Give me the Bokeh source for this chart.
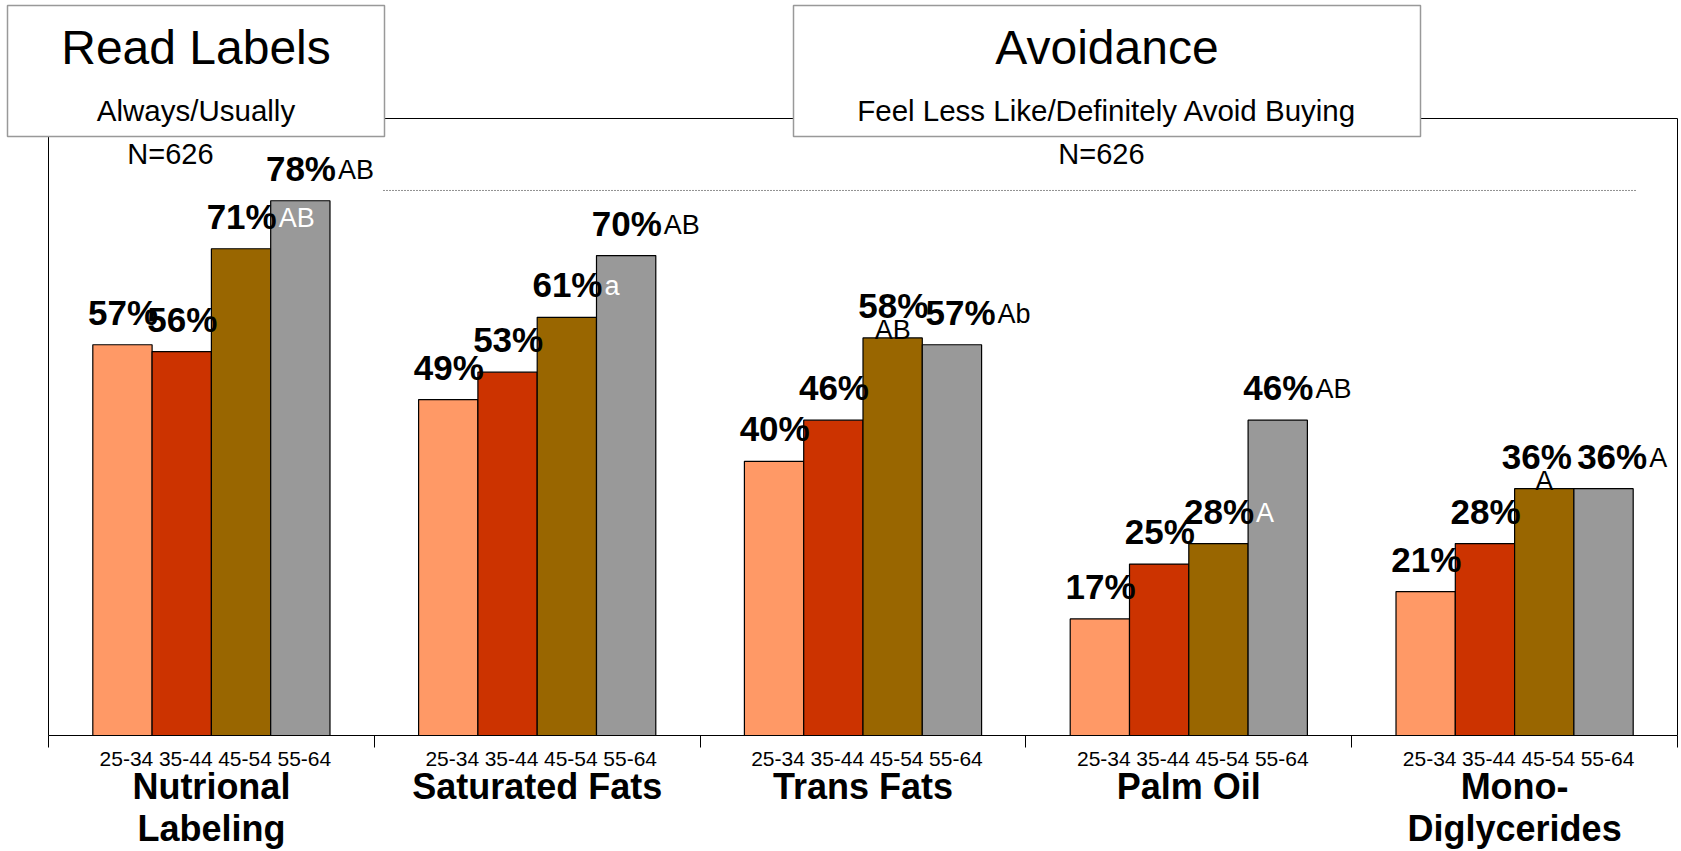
from bokeh.plotting import figure
from bokeh.models import (ColumnDataSource, LabelSet, BoxAnnotation,
                          LinearAxis, FixedTicker)
from bokeh.core.properties import value
from bokeh.embed import file_html
from bokeh.resources import INLINE

# ---------------------------------------------------------------- data
groups = ["Nutrional\nLabeling", "Saturated Fats", "Trans Fats", "Palm Oil",
          "Mono-\nDiglycerides"]
age_bands = ["25-34", "35-44", "45-54", "55-64"]
pct_25_34 = [57, 49, 40, 17, 21]
pct_35_44 = [56, 53, 46, 25, 28]
pct_45_54 = [71, 61, 58, 28, 36]
pct_55_64 = [78, 70, 57, 46, 36]
sig_25_34 = ["", "", "", "", ""]
sig_35_44 = ["", "", "", "", ""]
sig_45_54 = ["AB", "a", "AB", "A", "A"]
sig_55_64 = ["AB", "AB", "Ab", "AB", "A"]
sample_size = "N=626"
left_title, left_sub = "Read Labels", "Always/Usually"
right_title, right_sub = "Avoidance", "Feel Less Like/Definitely Avoid Buying"
ref_level = 79.5

series = [pct_25_34, pct_35_44, pct_45_54, pct_55_64]
sigs = [sig_25_34, sig_35_44, sig_45_54, sig_55_64]

# -------------------------------------------------------------- layout
W, H = 1681, 851
# plot box (canvas pixels); the figure's frame covers the whole canvas so
# that titles and category labels around the box can be drawn as well
BOX_L, BOX_R, BOX_T, BOX_B = 48, 1677, 118, 735
Y_MAX = 90
BAR_W = 0.182
FONT = "Liberation Sans"
COLORS = ["#FF9966", "#CC3300", "#996600", "#999999"]
N_GROUPS = len(groups)

XS = (BOX_R - BOX_L) / N_GROUPS   # pixels per group
YS = (BOX_B - BOX_T) / Y_MAX      # pixels per percentage point


def gx(px):
    return (px - BOX_L) / XS


def gy(py):
    return (BOX_B - py) / YS


# horizontal nudge (px) of each value label past its bar's right edge
label_nudge = [[6, 6, 6, 6], [6, 6, 6, 6], [6, 6, 6, 14], [6, 6, 6, 6], [6, 6, -2, 14]]
LABEL_LIFT = 20      # px between bar top and value-label baseline
SIG_LIFT = 22        # px between bar top and baseline of trailing letters
# significance letters that sit on top of the bar instead of after the value
sig_on_bar = [[False] * 4, [False] * 4, [False, False, True, False],
              [False] * 4, [False, False, True, False]]

p = figure(width=W, height=H, x_range=(gx(0), gx(W)), y_range=(gy(H), gy(0)),
           output_backend="svg", toolbar_location=None,
           x_axis_type=None, y_axis_type=None,
           min_border_left=0, min_border_right=0,
           min_border_top=0, min_border_bottom=0)
p.outline_line_color = None
p.background_fill_color = "white"
p.border_fill_color = "white"


def frame_axis(loc, bounds, ticks=(), tick_out=0):
    return LinearAxis(fixed_location=loc, bounds=bounds,
                      ticker=FixedTicker(ticks=list(ticks)),
                      major_tick_in=0, major_tick_out=tick_out,
                      minor_tick_line_color=None,
                      axis_line_color="black", axis_line_width=1,
                      major_tick_line_color="black",
                      major_label_text_font_size="0px",
                      major_label_overrides={t: "" for t in ticks})


# box edges: category axis with group separators, value axis, and frame
p.add_layout(frame_axis(0, (0, N_GROUPS), range(N_GROUPS + 1), 12), "below")
p.add_layout(frame_axis(0, (0, Y_MAX)), "left")
p.add_layout(frame_axis(N_GROUPS, (0, Y_MAX)), "right")
p.add_layout(frame_axis(Y_MAX, (0, N_GROUPS)), "above")

# ---------------------------------------------------------------- bars
bx, btop, bcol = [], [], []
lx, ly, ltxt = [], [], []
sx_, sy_, stxt, salign, scol = [], [], [], [], []
ax, atxt = [], []
for g in range(N_GROUPS):
    for j, vals in enumerate(series):
        xc = g + 0.5 + (j - 1.5) * BAR_W
        v = vals[g]
        bx.append(xc)
        btop.append(v)
        bcol.append(COLORS[j])
        xr = xc + BAR_W / 2
        nudge = label_nudge[g][j]
        lx.append(xr + nudge / XS)
        ly.append(v + LABEL_LIFT / YS)
        ltxt.append(f"{v}%")
        ax.append(xc + 4 / XS)
        atxt.append(age_bands[j])
        s = sigs[j][g]
        if s:
            stxt.append(s)
            if sig_on_bar[g][j]:
                sx_.append(xc)
                sy_.append(v - 1 / YS)
                salign.append("center")
                scol.append("black")
            else:
                sx_.append(xr + (nudge + 2) / XS)
                sy_.append(v + SIG_LIFT / YS)
                salign.append("left")
                scol.append("white" if j == 2 else "black")

bars = ColumnDataSource(dict(x=bx, top=btop, color=bcol))
p.vbar(x="x", top="top", bottom=0, width=BAR_W, source=bars,
       fill_color="color", line_color="black", line_width=1.2)

# dotted reference line
p.line(x=[gx(383), gx(1635)], y=[ref_level, ref_level], line_color="#222222",
       line_width=1, line_dash="1 2")

vals_src = ColumnDataSource(dict(x=lx, y=ly, text=ltxt))
p.add_layout(LabelSet(x="x", y="y", text="text", source=vals_src,
                      text_align="right", text_baseline="alphabetic",
                      text_font=value(FONT), text_font_style="bold",
                      text_font_size="35px", text_color="black"))

sig_src = ColumnDataSource(dict(x=sx_, y=sy_, text=stxt, align=salign, color=scol))
p.add_layout(LabelSet(x="x", y="y", text="text", source=sig_src,
                      text_align="align", text_baseline="alphabetic",
                      text_font=value(FONT), text_font_size="27px",
                      text_color="color"))

# ------------------------------------------------------ category labels
age_src = ColumnDataSource(dict(x=ax, y=[gy(765)] * len(ax), text=atxt))
p.add_layout(LabelSet(x="x", y="y", text="text", source=age_src,
                      text_align="center", text_baseline="alphabetic",
                      text_font=value(FONT), text_font_size="21px",
                      text_color="black"))

first_lines = [name.split("\n")[0] for name in groups]
second_lines = [name.split("\n")[1] if "\n" in name else "" for name in groups]
grp_x = [g + 0.5 for g in range(N_GROUPS)]
g1 = ColumnDataSource(dict(x=grp_x, y=[gy(798)] * N_GROUPS, text=first_lines))
p.add_layout(LabelSet(x="x", y="y", text="text", source=g1,
                      text_align="center", text_baseline="alphabetic",
                      text_font=value(FONT), text_font_style="bold",
                      text_font_size="36px", text_color="black"))
keep = [i for i, t in enumerate(second_lines) if t]
g2 = ColumnDataSource(dict(x=[grp_x[i] for i in keep], y=[gy(840)] * len(keep),
                           text=[second_lines[i] for i in keep]))
p.add_layout(LabelSet(x="x", y="y", text="text", source=g2,
                      text_align="center", text_baseline="alphabetic",
                      text_font=value(FONT), text_font_style="bold",
                      text_font_size="36px", text_color="black"))

# ---------------------------------------------------------- title boxes
for (l, r) in [(7, 384), (793, 1420)]:
    p.add_layout(BoxAnnotation(left=gx(l), right=gx(r), top=gy(5), bottom=gy(136),
                               fill_color="white", fill_alpha=1,
                               line_color="#999999", line_width=1.5,
                               line_alpha=1))

hx, hy, htxt, hsize = [], [], [], []
for cx, title, sub, ncx in [(195.5, left_title, left_sub, 170),
                            (1106.5, right_title, right_sub, 1101)]:
    hx += [gx(cx), gx(cx), gx(ncx)]
    hy += [gy(63), gy(120), gy(163)]
    htxt += [title, sub, sample_size]
    hsize += ["48px", "29.5px", "29px"]
head_src = ColumnDataSource(dict(x=hx, y=hy, text=htxt, size=hsize))
p.add_layout(LabelSet(x="x", y="y", text="text", source=head_src,
                      text_align="center", text_baseline="alphabetic",
                      text_font=value(FONT), text_font_size="size",
                      text_color="black"))

open("out.html", "w").write(file_html(p, INLINE))
